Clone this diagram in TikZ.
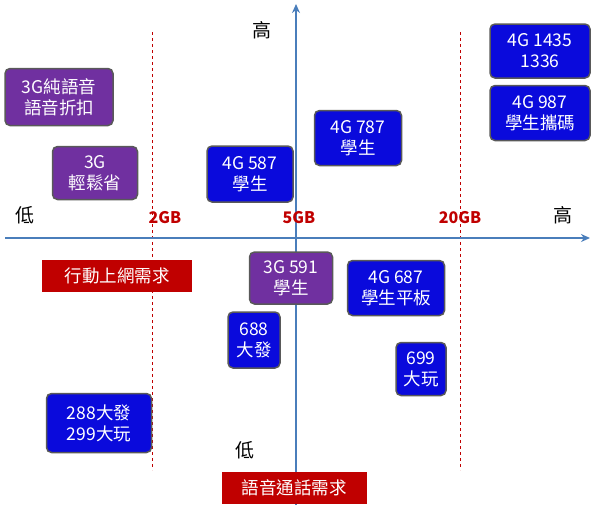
\documentclass[tikz,border=0pt]{standalone}
\usepackage{fontspec}
\setmainfont{Noto Sans CJK TC}
\usetikzlibrary{arrows.meta}
\definecolor{axis}{HTML}{4A7EBB}
\definecolor{pur}{HTML}{7030A0}
\definecolor{blu}{HTML}{0A0ADC}
\definecolor{redb}{HTML}{C00000}
\begin{document}
\begin{tikzpicture}[x=1pt,y=-1pt,
  box/.style={draw=gray!70!black,line width=1.5pt,rounded corners=5pt,text=white,align=center,font=\fontsize{17.5}{21}\selectfont,inner sep=0pt},
  pbox/.style={box,fill=pur},
  bbox/.style={box,fill=blu},
  rbox/.style={fill=redb,text=white,font=\fontsize{17.5}{20}\selectfont,inner sep=0pt,minimum height=32pt},
  lab/.style={font=\fontsize{19}{20}\selectfont},
  gb/.style={text=redb,font=\bfseries\fontsize{16}{18}\selectfont},
  ax/.style={draw=axis,line width=1.5pt,-{Stealth[length=9pt,width=8pt]}},
  dl/.style={draw=redb,dashed,line width=0.7pt}]
\useasboundingbox (0,0) rectangle (600,515);
\coordinate (xa) at (5,238); \coordinate (xb) at (590,238);
\coordinate (ya) at (296,505); \coordinate (yb) at (296,4);
\coordinate (d1a) at (152,32); \coordinate (d1b) at (152,470);
\coordinate (d2a) at (460,32); \coordinate (d2b) at (460,470);
\draw[dl] (d1a) -- (d1b);
\draw[dl] (d2a) -- (d2b);
\draw[ax] (xa) -- (xb);
\draw[ax] (ya) -- (yb);
\node[lab] (h1) at (262,30) {高};
\node[lab] (l1) at (245,450) {低};
\node[lab] (l2) at (25,215) {低};
\node[lab] (h2) at (563,215) {高};
\node[gb] (g2) at (165,218) {2GB};
\node[gb] (g5) at (299,218) {5GB};
\node[gb] (g20) at (460,218) {20GB};
\node[rbox,minimum width=150pt] (r1) at (117,276) {行動上網需求};
\node[rbox,minimum width=145pt] (r2) at (294,488) {語音通話需求};
\node[pbox,minimum width=108pt,minimum height=57pt] (p1) at (59,97) {3G純語音\\語音折扣};
\node[pbox,minimum width=85pt,minimum height=53pt] (p2) at (95,173) {3G\\輕鬆省};
\node[pbox,minimum width=83pt,minimum height=52pt] (p3) at (291,278) {3G 591\\學生};
\node[bbox,minimum width=100pt,minimum height=54pt] (b1) at (540,51) {4G 1435\\1336};
\node[bbox,minimum width=100pt,minimum height=55pt] (b2) at (540,113) {4G 987\\學生攜碼};
\node[bbox,minimum width=87pt,minimum height=55pt] (b3) at (358,138) {4G 787\\學生};
\node[bbox,minimum width=86pt,minimum height=56pt] (b4) at (250,174) {4G 587\\學生};
\node[bbox,minimum width=97pt,minimum height=55pt] (b5) at (396,288) {4G 687\\學生平板};
\node[bbox,minimum width=52pt,minimum height=56pt] (b6) at (254,340) {688\\大發};
\node[bbox,minimum width=50pt,minimum height=53pt] (b7) at (421,369) {699\\大玩};
\node[bbox,minimum width=105pt,minimum height=59pt] (b8) at (99,423) {288大發\\299大玩};
\end{tikzpicture}
\end{document}
